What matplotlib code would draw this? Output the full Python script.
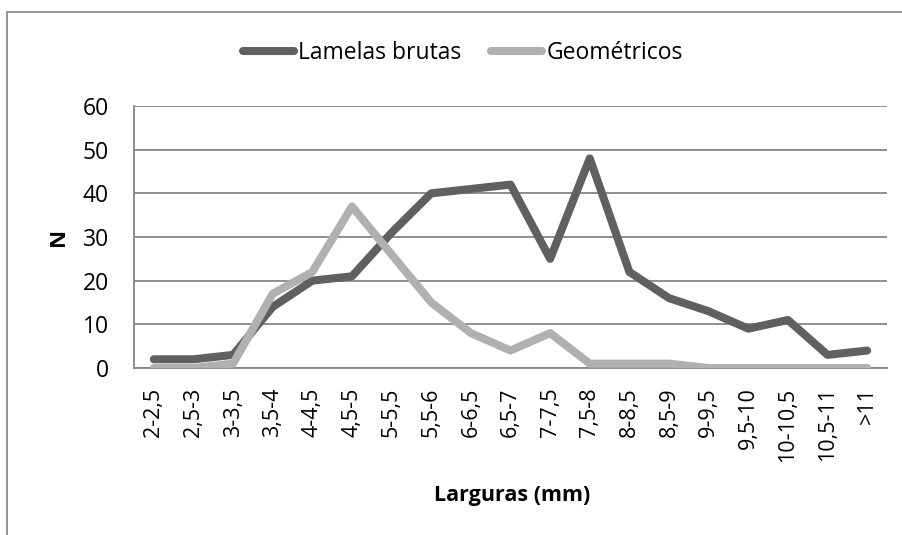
import matplotlib
matplotlib.use("Agg")
import matplotlib.pyplot as plt
from matplotlib.patches import Rectangle

categories = ["2-2,5", "2,5-3", "3-3,5", "3,5-4", "4-4,5", "4,5-5", "5-5,5", "5,5-6",
              "6-6,5", "6,5-7", "7-7,5", "7,5-8", "8-8,5", "8,5-9", "9-9,5", "9,5-10",
              "10-10,5", "10,5-11", ">11"]
lamelas = [2, 2, 3, 14, 20, 21, 31, 40, 41, 42, 25, 48, 22, 16, 13, 9, 11, 3, 4]
geometricos = [0, 0, 1, 17, 22, 37, 26, 15, 8, 4, 8, 1, 1, 1, 0, 0, 0, 0, 0]

plt.rcParams['font.family'] = ['Open Sans', 'DejaVu Sans']

fig = plt.figure(figsize=(9.03, 5.35), dpi=100)
# outer chart border (cropped on right and bottom)
fig.patches.append(Rectangle((7 / 903, -0.1), 1.2, 1 - 12 / 535 + 0.1, transform=fig.transFigure,
                             fill=False, edgecolor='#8c8c8c', linewidth=1.3))
ax = fig.add_axes([134 / 903, 1 - 368 / 535, (887 - 134) / 903, (368 - 106) / 535])

x = range(len(categories))
ax.plot(x, lamelas, color='#606060', linewidth=5.8, solid_capstyle='round',
        solid_joinstyle='round', label='Lamelas brutas', zorder=3)
ax.plot(x, geometricos, color='#b0b0b0', linewidth=5.8, solid_capstyle='round',
        solid_joinstyle='round', label='Geométricos', zorder=3)

ax.set_xlim(-0.5, len(categories) - 0.5)
ax.set_ylim(0, 60)
ax.set_yticks(range(0, 61, 10))
ax.set_xticks(list(x))
ax.set_xticklabels(categories, rotation=90, fontsize=15.5)
ax.tick_params(axis='y', labelsize=16.5, length=0, pad=18)
ax.tick_params(axis='x', length=0, pad=14)
ax.yaxis.grid(True, color='#868686', linewidth=1.3)
ax.set_axisbelow(True)
for s in ['top', 'right']:
    ax.spines[s].set_visible(False)
for s in ['left', 'bottom']:
    ax.spines[s].set_color('#868686')
    ax.spines[s].set_linewidth(1.3)

fig.text(59 / 903, 1 - 237 / 535, "N", fontsize=16, fontweight='bold', rotation=90,
         ha='center', va='center')
fig.text(512 / 903, 1 - 496 / 535, "Larguras (mm)", fontsize=15.5, fontweight='bold',
         ha='center', va='center')

leg = fig.legend(loc='center', bbox_to_anchor=(463 / 903, 1 - 53 / 535), ncol=2, frameon=False,
                 fontsize=16.5, handlelength=2.2, handletextpad=0.2, columnspacing=1.3)

fig.savefig("out.png", dpi=100)
